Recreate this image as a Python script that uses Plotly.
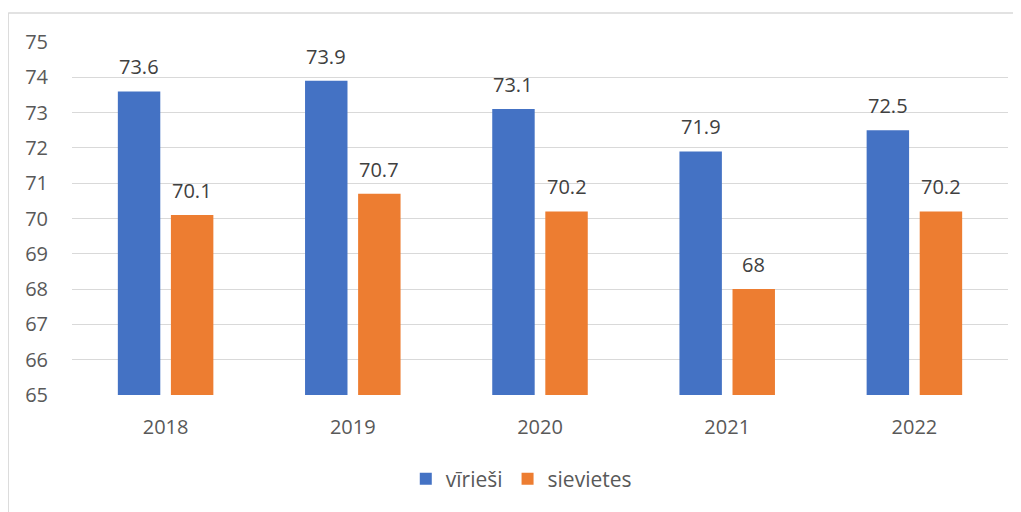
import plotly.graph_objects as go

years = ["2018", "2019", "2020", "2021", "2022"]
men = [73.6, 73.9, 73.1, 71.9, 72.5]
women = [70.1, 70.7, 70.2, 68.0, 70.2]
series_names = ["vīrieši", "sievietes"]
colors = ["#4472C4", "#ED7D31"]
y_ticks = [65, 66, 67, 68, 69, 70, 71, 72, 73, 74, 75]

FONT = "Open Sans"
TXT = "#595959"
GRID = "#D9D9D9"
FS = 20

fig = go.Figure()
fig.add_trace(go.Bar(x=years, y=men, name=series_names[0], marker_color=colors[0],
                     marker_line_width=0))
fig.add_trace(go.Bar(x=years, y=women, name=series_names[1], marker_color=colors[1],
                     marker_line_width=0))

shift = 26.6
for vals, xs in ((men, -shift), (women, shift)):
    for i, v in enumerate(vals):
        fig.add_annotation(x=i, y=v, text=f"{v:g}", showarrow=False,
                           xshift=xs, yanchor="bottom", yshift=9,
                           font=dict(family=FONT, size=FS, color="#404040"))

# chart border (top and left)
fig.add_shape(type="line", xref="paper", yref="paper", x0=-0.0682, x1=1.02,
              y0=1.0821, y1=1.0821, line=dict(color=GRID, width=1.5))
fig.add_shape(type="line", xref="paper", yref="paper", x0=-0.0682, x1=-0.0682,
              y0=1.0821, y1=-0.4, line=dict(color=GRID, width=1.5))

fig.update_layout(
    width=1013, height=504,
    margin=dict(l=64, r=13, t=34, b=115),
    paper_bgcolor="white", plot_bgcolor="white",
    barmode="group", bargap=0.433, bargroupgap=0.2,
    font=dict(family=FONT, size=FS, color=TXT),
    showlegend=True,
    legend=dict(orientation="h", x=0.48, xanchor="center", y=-0.238, yanchor="middle",
                font=dict(family=FONT, size=21, color=TXT), itemwidth=30,
                traceorder="normal"),
    xaxis=dict(type="category", range=[-0.5, len(years) - 0.5], showgrid=False,
               showline=False, ticks="", ticklabelstandoff=18,
               tickfont=dict(family=FONT, size=FS, color=TXT)),
    yaxis=dict(range=[65, 75], tickvals=y_ticks, showgrid=True, gridcolor=GRID,
               gridwidth=1, zeroline=False, showline=False, ticks="",
               ticklabelstandoff=23,
               tickfont=dict(family=FONT, size=FS, color=TXT)),
)

fig.write_html("out.html")
